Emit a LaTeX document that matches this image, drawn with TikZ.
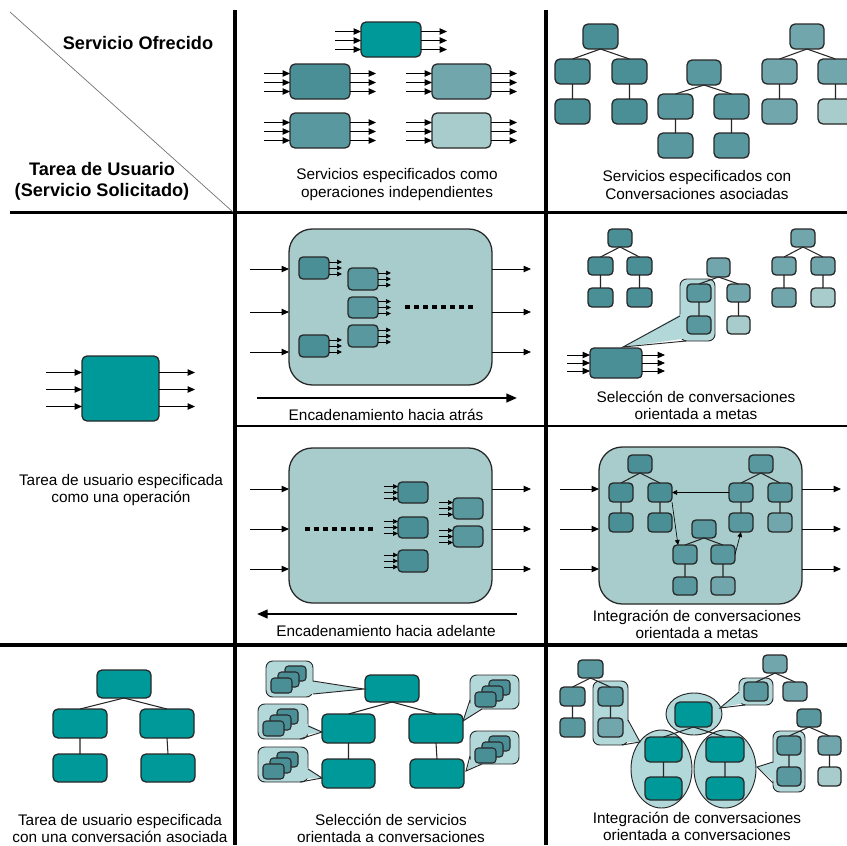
\documentclass[tikz,border=0pt]{standalone}
\usepackage{fontspec}
\setmainfont{Liberation Sans}
\usetikzlibrary{arrows.meta,shapes.geometric}

\definecolor{teal0}{RGB}{0,153,153}
\definecolor{cA}{RGB}{74,142,150}
\definecolor{cB}{RGB}{88,152,158}
\definecolor{cC}{RGB}{112,166,172}
\definecolor{cD}{RGB}{168,204,204}
\definecolor{bub}{RGB}{178,216,218}
\definecolor{bord}{RGB}{40,40,40}

\tikzset{
  bx/.style={draw=bord, line width=1.1pt, rounded corners=1.5mm, inner sep=0pt, outer sep=0pt},
  tedge/.style={draw=black!85, line width=0.9pt},
  arr/.style={line width=0.75pt, -{Triangle[length=2.2mm,width=1.9mm]}},
  sarr/.style={line width=0.55pt, -{Triangle[length=1.5mm,width=1.4mm]}},
  bigarr/.style={line width=1.8pt, -{Triangle[length=3.2mm,width=2.6mm]}},
  gridline/.style={line width=2.6pt, black},
  dotline/.style={line width=1.2mm, dash pattern=on 1.5mm off 1.2mm},
  captxt/.style={font=\fontsize{13.1}{14.6}\selectfont, align=center, inner sep=0pt},
  headtxt/.style={font=\fontsize{15.5}{17.9}\selectfont\bfseries, align=center, inner sep=0pt},
  bubble/.style={fill=bub, draw=bord, line width=0.8pt, rounded corners=2mm},
  bubline/.style={draw=bord, line width=0.8pt},
  ell/.style={ellipse, fill=bub, draw=bord, line width=0.8pt, inner sep=0pt},
}

% box node from its corners: [extra style]{name}{x1}{y1}{x2}{y2}{fill}
\newcommand\bx[7][]{\node[bx,#1,fill=#7,minimum width={((#5)-(#3))*0.3mm},minimum height={((#6)-(#4))*0.3mm}] (#2) at ({((#3)+(#5))/2},{((#4)+(#6))/2}) {};}
% edges of a two-level tree
\newcommand\tedges[5]{\draw[tedge] (#1.south) -- (#2.north) (#1.south) -- (#3.north) (#2.south) -- (#4.north) (#3.south) -- (#5.north);}
% three inputs and three outputs of an operation
\newcommand\ioarr[5]{\foreach \dd in {#3,#4,#5}{%
  \draw[arr] ([xshift=-#2*0.3mm,yshift={-(\dd)*0.3mm}]#1.west) -- ([yshift={-(\dd)*0.3mm}]#1.west);
  \draw[arr] ([yshift={-(\dd)*0.3mm}]#1.east) -- ([xshift=#2*0.3mm,yshift={-(\dd)*0.3mm}]#1.east);}}
% short output / input stubs of a small operation
\newcommand\stubout[1]{\foreach \dd in {-6,0,6}{\draw[sarr] ([yshift=\dd*0.3mm]#1.east) -- ([xshift=13*0.3mm,yshift=\dd*0.3mm]#1.east);}}
\newcommand\stubin[1]{\foreach \dd in {-6,0,6}{\draw[sarr] ([xshift=-14*0.3mm,yshift=\dd*0.3mm]#1.west) -- ([yshift=\dd*0.3mm]#1.west);}}
% three stacked operations, front box top-left at (#2,#3)
\newcommand\stk[3]{%
  \bx[rounded corners=1mm,line width=0.9pt]{#1c}{#2+14}{#3-12}{#2+35}{#3+3}{cA}
  \bx[rounded corners=1mm,line width=0.9pt]{#1b}{#2+7}{#3-6}{#2+28}{#3+9}{cA}
  \bx[rounded corners=1mm,line width=0.9pt]{#1a}{#2}{#3}{#2+21}{#3+15}{cA}}
% callout pointer: base a, base b, tip, inward offset
\newcommand\pointer[8]{%
  \fill[bub] ({#1+(#7)},{#2+(#8)}) -- (#5,#6) -- ({#3+(#7)},{#4+(#8)}) -- cycle;
  \draw[bubline] (#1,#2) -- (#5,#6) -- (#3,#4);}

\begin{document}
\begin{tikzpicture}[x=0.3mm,y=-0.3mm]
\clip (0,0) rectangle (847,845);
\fill[white] (0,0) rectangle (847,845);

% ---------- grid ----------
\draw[gridline] (235,10) -- (235,845);
\draw[gridline] (546,10) -- (546,845);
\draw[gridline] (10,212.5) -- (847,212.5);
\draw[gridline] (0,645) -- (847,645);
\draw[line width=1.2pt] (235,426) -- (847,426);
\draw[black!55, line width=0.6pt] (10,12) -- (233,212);

\node[headtxt] (hOf) at (138,43) {Servicio Ofrecido};
\node[headtxt] (hTu) at (102,181) {Tarea de Usuario\\(Servicio Solicitado)};

% ---------- independent operations ----------
\bx{tmA}{361}{22}{421}{57}{teal0}
\bx{tmB}{290}{64}{350}{99}{cA}
\bx{tmC}{432}{64}{491}{99}{cC}
\bx{tmD}{290}{113}{350}{148}{cB}
\bx{tmE}{432}{113}{491}{148}{cD}
\ioarr{tmA}{26}{-8}{1}{10}
\ioarr{tmB}{26}{-8}{1}{10}
\ioarr{tmC}{26}{-8}{1}{10}
\ioarr{tmD}{26}{-8}{1}{10}
\ioarr{tmE}{26}{-8}{1}{10}
\node[captxt] (capTM) at (397,184.5) {Servicios especificados como\\operaciones independientes};

% ---------- services with conversations ----------
\bx{t1r}{583}{24}{618}{49}{cA}
\bx{t1a}{555}{59}{590}{84}{cA}
\bx{t1b}{612}{59}{647}{84}{cA}
\bx{t1c}{555}{99}{590}{124}{cA}
\bx{t1d}{612}{99}{647}{124}{cA}
\tedges{t1r}{t1a}{t1b}{t1c}{t1d}
\bx{t2r}{687}{60}{721}{85}{cB}
\bx{t2a}{658}{94}{693}{119}{cB}
\bx{t2b}{714}{94}{749}{119}{cB}
\bx{t2c}{658}{133}{693}{158}{cB}
\bx{t2d}{714}{133}{749}{158}{cB}
\tedges{t2r}{t2a}{t2b}{t2c}{t2d}
\bx{t3r}{790}{24}{824}{49}{cC}
\bx{t3a}{762}{59}{797}{84}{cC}
\bx{t3b}{818}{59}{853}{84}{cC}
\bx{t3c}{762}{99}{797}{124}{cC}
\bx{t3d}{818}{99}{853}{124}{cD}
\tedges{t3r}{t3a}{t3b}{t3c}{t3d}
\node[captxt] (capTR) at (697,185) {Servicios especificados con\\Conversaciones asociadas};

% ---------- task as one operation ----------
\bx{lop}{82}{356}{159}{421}{teal0}
\ioarr{lop}{36}{-16}{1}{18}
\node[captxt] (capL1) at (121,490) {Tarea de usuario especificada\\como una operación};

% ---------- backward chaining ----------
\bx[rounded corners=7mm]{bb1}{289}{229}{492}{385}{cD}
\ioarr{bb1}{39}{-38}{5}{45}
\bx[rounded corners=1.2mm]{bkA}{299}{257}{329}{279}{cA}
\bx[rounded corners=1.2mm]{bkB}{348}{268}{378}{290}{cB}
\bx[rounded corners=1.2mm]{bkC}{348}{297}{378}{318}{cB}
\bx[rounded corners=1.2mm]{bkD}{348}{325}{378}{347}{cB}
\bx[rounded corners=1.2mm]{bkE}{299}{335}{329}{357}{cA}
\stubout{bkA}\stubout{bkB}\stubout{bkC}\stubout{bkD}\stubout{bkE}
\coordinate (dk1) at (405,307);
\coordinate (dk2) at (475,307);
\draw[dotline] (dk1) -- (dk2);
\coordinate (bw1) at (257,398);
\coordinate (bw2) at (517,398);
\draw[bigarr] (bw1) -- (bw2);
\node[captxt] (capBk) at (386,415) {Encadenamiento hacia atrás};

% ---------- forward chaining ----------
\bx[rounded corners=7mm]{bb2}{289}{448}{492}{603}{cD}
\ioarr{bb2}{39}{-36.5}{3.5}{43.5}
\bx[rounded corners=1.2mm]{fwF}{398}{482}{428}{503}{cA}
\bx[rounded corners=1.2mm]{fwG}{398}{517}{428}{538}{cA}
\bx[rounded corners=1.2mm]{fwH}{398}{550}{428}{572}{cA}
\bx[rounded corners=1.2mm]{fwI}{453}{498}{483}{519}{cB}
\bx[rounded corners=1.2mm]{fwJ}{453}{526}{483}{547}{cB}
\stubin{fwF}\stubin{fwG}\stubin{fwH}\stubin{fwI}\stubin{fwJ}
\coordinate (df1) at (305,529);
\coordinate (df2) at (375,529);
\draw[dotline] (df1) -- (df2);
\coordinate (fw1) at (517,614);
\coordinate (fw2) at (257,614);
\draw[bigarr] (fw1) -- (fw2);
\node[captxt] (capFw) at (386,631) {Encadenamiento hacia adelante};

% ---------- goal-oriented conversation selection ----------
\bx[rounded corners=1.2mm]{sar}{608}{229}{632}{247}{cA}
\bx[rounded corners=1.2mm]{saa}{588}{257}{613}{275}{cA}
\bx[rounded corners=1.2mm]{sab}{627}{257}{652}{275}{cA}
\bx[rounded corners=1.2mm]{sac}{588}{288}{613}{307}{cA}
\bx[rounded corners=1.2mm]{sad}{627}{288}{652}{307}{cA}
\tedges{sar}{saa}{sab}{sac}{sad}
\bx[rounded corners=1.2mm]{sop}{590}{348}{642}{378}{cA}
\ioarr{sop}{23}{-8}{0}{8}
\draw[bubble] (680,279) rectangle (715,341);
\pointer{680}{316}{686}{341}{623}{347}{3}{-3}
\bx[rounded corners=1.2mm]{sbr}{707}{258}{730}{277}{cC}
\bx[rounded corners=1.2mm]{sba}{687}{284}{711}{302}{cB}
\bx[rounded corners=1.2mm]{sbb}{727}{284}{750}{302}{cC}
\bx[rounded corners=1.2mm]{sbc}{687}{316}{711}{334}{cB}
\bx[rounded corners=1.2mm]{sbd}{727}{316}{750}{334}{cD}
\tedges{sbr}{sba}{sbb}{sbc}{sbd}
\bx[rounded corners=1.2mm]{scr}{791}{229}{815}{247}{cC}
\bx[rounded corners=1.2mm]{sca}{772}{257}{796}{275}{cC}
\bx[rounded corners=1.2mm]{scb}{811}{257}{835}{275}{cC}
\bx[rounded corners=1.2mm]{scc}{772}{288}{796}{307}{cC}
\bx[rounded corners=1.2mm]{scd}{811}{288}{835}{307}{cD}
\tedges{scr}{sca}{scb}{scc}{scd}
\node[captxt] (capS1) at (696,405) {Selección de conversaciones\\orientada a metas};

% ---------- goal-oriented conversation integration ----------
\bx[rounded corners=7mm]{bb3}{599}{447}{802}{604}{cD}
\ioarr{bb3}{39}{-36.5}{3.5}{43.5}
\bx[rounded corners=1.2mm]{iLr}{628}{455}{652}{473}{cA}
\bx[rounded corners=1.2mm]{iLa}{609}{483}{633}{502}{cA}
\bx[rounded corners=1.2mm]{iLb}{648}{483}{672}{502}{cA}
\bx[rounded corners=1.2mm]{iLc}{609}{513}{633}{532}{cA}
\bx[rounded corners=1.2mm]{iLd}{648}{513}{672}{532}{cA}
\tedges{iLr}{iLa}{iLb}{iLc}{iLd}
\bx[rounded corners=1.2mm]{iRr}{749}{455}{773}{473}{cB}
\bx[rounded corners=1.2mm]{iRa}{729}{483}{753}{502}{cB}
\bx[rounded corners=1.2mm]{iRb}{768}{483}{792}{502}{cB}
\bx[rounded corners=1.2mm]{iRc}{729}{513}{753}{532}{cB}
\bx[rounded corners=1.2mm]{iRd}{768}{513}{792}{532}{cC}
\tedges{iRr}{iRa}{iRb}{iRc}{iRd}
\bx[rounded corners=1.2mm]{iMr}{692}{520}{716}{538}{cB}
\bx[rounded corners=1.2mm]{iMa}{673}{545}{697}{564}{cB}
\bx[rounded corners=1.2mm]{iMb}{711}{545}{735}{564}{cB}
\bx[rounded corners=1.2mm]{iMc}{673}{577}{697}{595}{cB}
\bx[rounded corners=1.2mm]{iMd}{711}{577}{735}{595}{cC}
\tedges{iMr}{iMa}{iMb}{iMc}{iMd}
\draw[sarr] (iRa.west) -- (iLb.east);
\draw[sarr] (iLb.south east) -- ([xshift=5*0.3mm]iMa.north west);
\draw[sarr] (iMb.east) -- (iRc.south);
\node[captxt] (capI1) at (697,624.5) {Integración de conversaciones\\orientada a metas};

% ---------- task with one conversation ----------
\bx{lr}{97}{670}{151}{698}{teal0}
\bx{la}{53}{709}{107}{738}{teal0}
\bx{lb}{140}{709}{194}{738}{teal0}
\bx{lc}{53}{754}{107}{782}{teal0}
\bx{ld}{141}{754}{195}{782}{teal0}
\tedges{lr}{la}{lb}{lc}{ld}
\node[captxt] (capL2) at (120,828.5) {Tarea de usuario especificada\\con una conversación asociada};

% ---------- conversation-oriented service selection ----------
\bx{mr}{365}{675}{419}{702}{teal0}
\bx{ma}{322}{714}{375}{743}{teal0}
\bx{mb}{409}{714}{463}{743}{teal0}
\bx{mc}{322}{759}{375}{788}{teal0}
\bx{md}{410}{759}{464}{788}{teal0}
\tedges{mr}{ma}{mb}{mc}{md}
\draw[bubble] (266,661) rectangle (313,697);
\pointer{313}{681}{313}{694}{364}{689}{-3}{0}
\draw[bubble] (258,704) rectangle (308,739);
\pointer{308}{726}{300}{739}{322}{732}{-3}{-3}
\draw[bubble] (258,747) rectangle (308,782);
\pointer{308}{769}{300}{782}{322}{778}{-3}{-3}
\draw[bubble] (470,675) rectangle (519,709);
\pointer{470}{700}{482}{709}{463}{721}{3}{-3}
\draw[bubble] (470,731) rectangle (519,764);
\pointer{470}{756}{482}{764}{466}{771}{3}{-3}
\stk{sA}{271}{678}
\stk{sB}{263}{721}
\stk{sC}{263}{764}
\stk{sD}{475}{692}
\stk{sE}{475}{748}
\node[captxt] (capS2) at (391,828) {Selección de servicios\\orientada a conversaciones};

% ---------- conversation-oriented conversation integration ----------
\node[ell, minimum width=56*0.3mm, minimum height=42*0.3mm] (eR) at (694,714) {};
\node[ell, minimum width=61*0.3mm, minimum height=78*0.3mm] (eA) at (661.5,769) {};
\node[ell, minimum width=62*0.3mm, minimum height=78*0.3mm] (eB) at (725,769) {};
\draw[bubble] (593,681) rectangle (628,745);
\pointer{628}{720}{622}{745}{640}{742}{-3}{-3}
\draw[bubble] (739,678) rectangle (773,705);
\pointer{739}{692}{745}{705}{720}{708}{3}{-3}
\draw[bubble] (773,731) rectangle (805,792);
\pointer{773}{762}{773}{783}{757}{767}{3}{0}
\bx[rounded corners=1.2mm]{cTr}{578}{660}{603}{678}{cB}
\bx[rounded corners=1.2mm]{cTa}{560}{687}{585}{706}{cB}
\bx[rounded corners=1.2mm]{cTb}{598}{687}{623}{706}{cB}
\bx[rounded corners=1.2mm]{cTc}{560}{718}{585}{737}{cB}
\bx[rounded corners=1.2mm]{cTd}{598}{718}{623}{737}{cC}
\tedges{cTr}{cTa}{cTb}{cTc}{cTd}
\bx{cMr}{675}{702}{712}{727}{teal0}
\bx{cMa}{645}{737}{682}{762}{teal0}
\bx{cMb}{706}{737}{744}{762}{teal0}
\bx{cMc}{645}{777}{682}{800}{teal0}
\bx{cMd}{706}{777}{744}{800}{teal0}
\tedges{cMr}{cMa}{cMb}{cMc}{cMd}
\bx[rounded corners=1.2mm]{cUr}{763}{655}{787}{673}{cC}
\bx[rounded corners=1.2mm]{cUa}{744}{682}{768}{701}{cB}
\bx[rounded corners=1.2mm]{cUb}{783}{682}{807}{701}{cC}
\draw[tedge] (cUr.south) -- (cUa.north) (cUr.south) -- (cUb.north);
\bx[rounded corners=1.2mm]{cVr}{797}{709}{821}{727}{cB}
\bx[rounded corners=1.2mm]{cVa}{777}{736}{801}{755}{cB}
\bx[rounded corners=1.2mm]{cVb}{818}{736}{841}{755}{cC}
\bx[rounded corners=1.2mm]{cVc}{777}{767}{801}{786}{cB}
\bx[rounded corners=1.2mm]{cVd}{818}{767}{841}{786}{cD}
\tedges{cVr}{cVa}{cVb}{cVc}{cVd}
\node[captxt] (capI2) at (697,826.5) {Integración de conversaciones\\orientada a conversaciones};
\end{tikzpicture}
\end{document}
